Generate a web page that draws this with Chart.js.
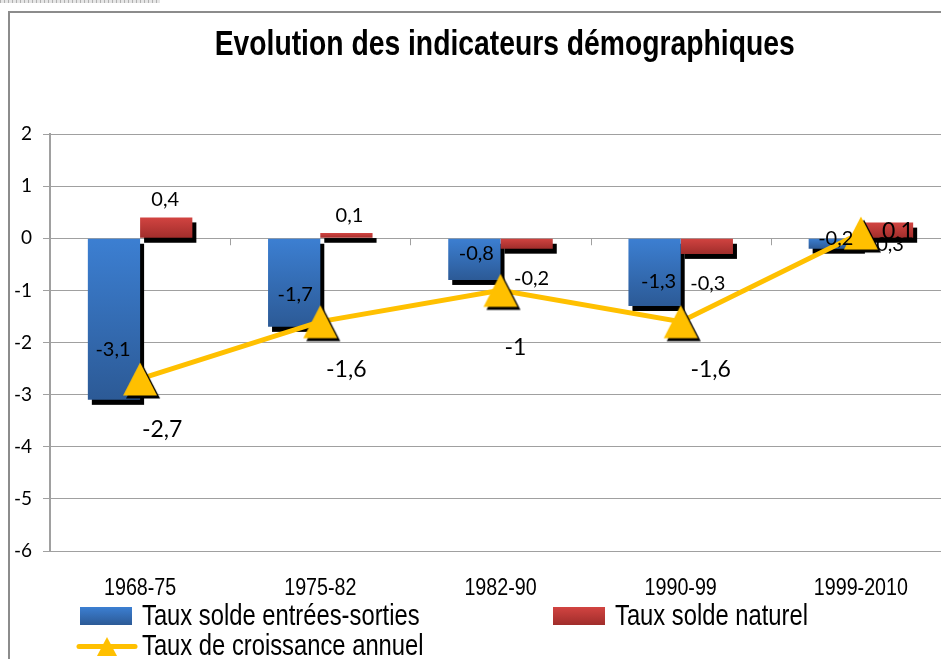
<!DOCTYPE html>
<html><head><meta charset="utf-8">
<script src="https://cdn.jsdelivr.net/npm/chart.js@4.4.1/dist/chart.umd.min.js"></script>
<style>
html,body{margin:0;padding:0;background:#fff;overflow:hidden;width:941px;height:659px;}
#wrap{position:relative;width:941px;height:659px;overflow:hidden;background:#fff;}
#c{position:absolute;left:0;top:0;}
.frame{position:absolute;left:8px;top:11px;width:1000px;height:700px;border-left:2px solid #8c8c8c;border-top:2px solid #8c8c8c;}
.strip{position:absolute;left:0;top:0;width:160px;height:3px;background:repeating-linear-gradient(90deg,#b0b0b0 0 1px,#e6e6e6 1px 4px);}
#title{position:absolute;left:0;width:1010px;top:23px;text-align:center;font:bold 34.5px 'Liberation Sans',Arial,sans-serif;line-height:40px;color:#000;white-space:nowrap;}
#title span{display:inline-block;transform:scaleX(0.82);transform-origin:50% 50%;}
.leg{position:absolute;font:29px 'Liberation Sans',Arial,sans-serif;line-height:32px;color:#000;white-space:nowrap;transform:scaleX(0.82);transform-origin:0 50%;}
.box{position:absolute;}
</style></head>
<body>
<div id="wrap">
  <div class="strip"></div>
  <div class="frame"></div>
  <canvas id="c" width="951" height="659"></canvas>
  <div id="title"><span>Evolution des indicateurs démographiques</span></div>
  <div class="box" style="left:80px;top:607px;width:52px;height:18px;background:linear-gradient(#3c7fd2,#2c5a96);"></div>
  <div class="leg" id="leg0" style="left:142px;top:599px;"></div>
  <div class="box" style="left:553px;top:607px;width:52px;height:18px;background:linear-gradient(#d24441,#a02d2b);"></div>
  <div class="leg" id="leg1" style="left:615px;top:599px;"></div>
  <svg class="box" style="left:76px;top:632px;" width="62" height="28">
    <line x1="3" y1="14.5" x2="59" y2="14.5" stroke="#FFC000" stroke-width="5" stroke-linecap="round"/>
    <polygon points="31,5 41,24 21,24" fill="#FFC000"/>
  </svg>
  <div class="leg" id="leg2" style="left:142px;top:629px;"></div>
</div>
<script>
// ---- data ----
const categories = ['1968-75', '1975-82', '1982-90', '1990-99', '1999-2010'];
const soldeEntreesSorties = [-3.1, -1.7, -0.8, -1.3, -0.2];
const soldeNaturel = [0.4, 0.1, -0.2, -0.3, 0.3];
const croissanceAnnuelle = [-2.7, -1.6, -1, -1.6, 0.1];
const yTickValues = [-6, -5, -4, -3, -2, -1, 0, 1, 2];
const seriesNames = ['Taux solde entrées-sorties', 'Taux solde naturel', 'Taux de croissance annuel'];

// ---- label placement (pixel offsets from the value end of each mark) ----
const labelOffsets = [
  [[22, 51], [26, 48], [15, 57], [30, 48], [37, -1]],      // line
  [[-1, -50], [1, -32], [2, -26], [4, -24], [1, -10]],     // blue bars
  [[-1, -18], [3, -17], [5, 30], [1, 30], [3, 22]]         // red bars
];

document.getElementById('leg0').textContent = seriesNames[0];
document.getElementById('leg1').textContent = seriesNames[1];
document.getElementById('leg2').textContent = seriesNames[2];

const gridColor = '#a0a0a0';
const labelFont = "Lato, 'Open Sans', sans-serif";
const axisFont = "'Liberation Sans', Arial, sans-serif";

function fr(v) { return String(v).replace('.', ','); }

function barGradient(c, top, bottom) {
  const chart = c.chart;
  const ys = chart.scales && chart.scales.y;
  if (!ys || c.type !== 'data') return top;
  const y0 = ys.getPixelForValue(0), y1 = ys.getPixelForValue(c.raw);
  if (!isFinite(y0) || !isFinite(y1) || Math.abs(y0 - y1) < 0.5) return top;
  const g = chart.ctx.createLinearGradient(0, Math.min(y0, y1), 0, Math.max(y0, y1));
  g.addColorStop(0, top);
  g.addColorStop(1, bottom);
  return g;
}

// triangle marker with its offset shadow
function makeTriangle() {
  const cv = document.createElement('canvas');
  cv.width = 42; cv.height = 42;
  const x = cv.getContext('2d');
  const cx = 21, cy = 21, w = 34, h = 33;
  x.shadowColor = '#000'; x.shadowOffsetX = 3; x.shadowOffsetY = 3; x.shadowBlur = 0;
  x.fillStyle = '#FFC000';
  x.beginPath();
  x.moveTo(cx, cy - h / 2);
  x.lineTo(cx + w / 2, cy + h / 2);
  x.lineTo(cx - w / 2, cy + h / 2);
  x.closePath();
  x.fill();
  return cv;
}
const tri = makeTriangle();

const decor = {
  id: 'decor',
  beforeDatasetsDraw(chart) {
    const { ctx, chartArea, scales: { x, y } } = chart;
    const y0 = y.getPixelForValue(0);
    ctx.save();
    // category tick marks on the zero line
    ctx.strokeStyle = gridColor; ctx.lineWidth = 1;
    for (let i = 1; i < categories.length; i++) {
      const bx = Math.round((x.getPixelForValue(i - 1) + x.getPixelForValue(i)) / 2) + 0.5;
      ctx.beginPath(); ctx.moveTo(bx, y0); ctx.lineTo(bx, y0 + 7); ctx.stroke();
    }
    // category labels (condensed), placed by the x scale
    ctx.fillStyle = '#000';
    ctx.font = '24px ' + axisFont;
    ctx.textAlign = 'center';
    ctx.textBaseline = 'alphabetic';
    chart.data.labels.forEach((lab, i) => {
      ctx.save();
      ctx.translate(x.getPixelForValue(i), chartArea.bottom + 44);
      ctx.scale(0.82, 1);
      ctx.fillText(lab, 0, 0);
      ctx.restore();
    });
    // bar shadows (behind all bars)
    [1, 2].forEach(di => {
      chart.getDatasetMeta(di).data.forEach(el => {
        const t = Math.min(el.y, el.base), h = Math.abs(el.base - el.y);
        ctx.fillRect(el.x - el.width / 2 + 4, t + 5, el.width, h);
      });
    });
    ctx.restore();
  },
  afterDatasetsDraw(chart) {
    const { ctx } = chart;
    ctx.save();
    ctx.fillStyle = '#000';
    ctx.textAlign = 'center';
    ctx.textBaseline = 'middle';
    chart.data.datasets.forEach((ds, di) => {
      ctx.font = (di === 0 ? '23px ' : '20px ') + labelFont;
      chart.getDatasetMeta(di).data.forEach((el, i) => {
        const off = labelOffsets[di][i];
        ctx.fillText(fr(ds.data[i]), el.x + off[0], el.y + off[1]);
      });
    });
    ctx.restore();
  }
};

new Chart(document.getElementById('c'), {
  data: {
    labels: categories,
    datasets: [
      {
        type: 'line', label: seriesNames[2], data: croissanceAnnuelle,
        borderColor: '#FFC000', borderWidth: 5, tension: 0,
        pointStyle: tri, pointRadius: 17, pointHoverRadius: 17
      },
      {
        type: 'bar', label: seriesNames[0], data: soldeEntreesSorties,
        backgroundColor: c => barGradient(c, '#3c7fd2', '#2c5a96'),
        borderWidth: 0, barPercentage: 1, categoryPercentage: 0.58
      },
      {
        type: 'bar', label: seriesNames[1], data: soldeNaturel,
        backgroundColor: c => barGradient(c, '#d24441', '#a02d2b'),
        borderWidth: 0, barPercentage: 1, categoryPercentage: 0.58
      }
    ]
  },
  options: {
    responsive: false,
    animation: false,
    devicePixelRatio: 1,
    layout: { autoPadding: false, padding: { top: 134, right: 0, bottom: 0, left: 0 } },
    plugins: { legend: { display: false }, title: { display: false }, tooltip: { enabled: false } },
    scales: {
      x: {
        grid: { display: false },
        border: { display: false },
        ticks: { display: false },
        afterFit: s => { s.height = 108; s.paddingLeft = 0; s.paddingRight = 0; }
      },
      y: {
        min: -6, max: 2,
        afterBuildTicks: s => { s.ticks = yTickValues.map(v => ({ value: v })); },
        grid: { color: gridColor, lineWidth: 1, tickLength: 7, drawTicks: true },
        border: { display: true, color: gridColor, width: 2 },
        ticks: { font: { family: labelFont, size: 19 }, color: '#000', padding: 11, callback: v => String(v) },
        afterFit: s => { s.width = 50; }
      }
    }
  },
  plugins: [decor]
});
</script>
</body></html>
